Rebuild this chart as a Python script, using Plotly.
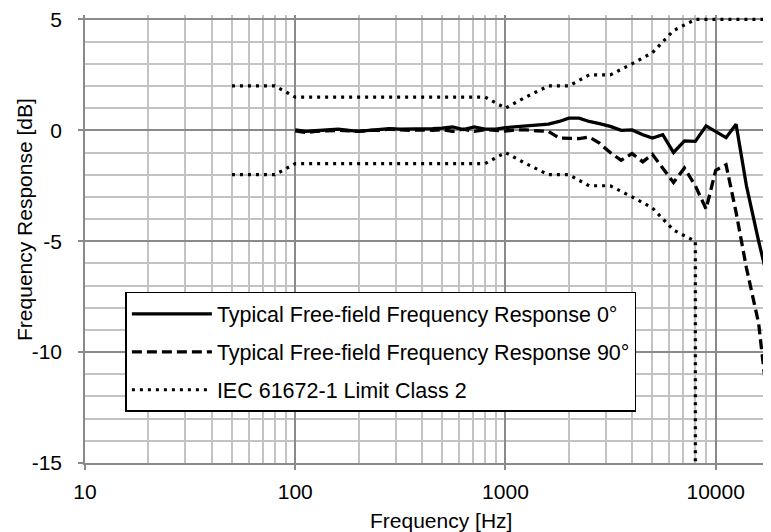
import plotly.graph_objects as go

# ---- data ----
freq_meas = [100, 112, 125, 140, 160, 180, 200, 224, 250, 280, 315, 355, 400, 450, 500, 560, 630, 710, 800, 900,
             1000, 1120, 1250, 1400, 1600, 1800, 2000, 2240, 2500, 2800, 3150, 3550, 4000, 4500, 5000, 5600, 6300, 7100, 8000, 9000,
             10000, 11200, 12500, 14000, 16000, 18000, 20000]
resp_0deg = [0.02, -0.05, -0.02, 0.0, 0.05, 0.0, -0.05, 0.0, 0.03, 0.08, 0.05, 0.05, 0.06, 0.08, 0.1, 0.15, 0.03, 0.15, 0.05, 0.05,
             0.12, 0.15, 0.18, 0.22, 0.28, 0.4, 0.55, 0.55, 0.4, 0.3, 0.18, 0.0, 0.02, -0.2, -0.35, -0.2, -1.0, -0.48, -0.5, 0.2,
             -0.05, -0.33, 0.27, -2.5, -5.0, -7.0, -9.0]
resp_90deg = [-0.02, -0.1, -0.05, -0.03, 0.0, -0.02, -0.05, 0.0, 0.0, 0.05, 0.03, 0.0, 0.02, 0.0, 0.03, -0.05, 0.05, -0.05, 0.03, 0.0,
              -0.03, 0.02, 0.02, -0.02, -0.05, -0.35, -0.37, -0.37, -0.3, -0.58, -1.0, -1.35, -1.05, -1.42, -1.08, -1.7, -2.35, -1.7, -2.5, -3.55,
              -1.8, -1.55, -3.7, -6.2, -8.7, -13.0, -17.0]

freq_iec_upper = [50, 63, 80, 100, 125, 160, 200, 250, 315, 400, 500, 630, 800, 1000, 1250, 1600, 2000, 2500, 3150, 4000,
                  5000, 6300, 8000, 10000, 12500, 16000, 20000]
iec_upper = [2, 2, 2, 1.5, 1.5, 1.5, 1.5, 1.5, 1.5, 1.5, 1.5, 1.5, 1.5, 1.0, 1.5, 2.0, 2.0, 2.5, 2.5, 3.0,
             3.5, 4.5, 5.0, 5.0, 5.0, 5.0, 5.0]
freq_iec_lower = [50, 63, 80, 100, 125, 160, 200, 250, 315, 400, 500, 630, 800, 1000, 1250, 1600, 2000, 2500, 3150, 4000,
                  5000, 6300, 8000, 8000]
iec_lower = [-2, -2, -2, -1.5, -1.5, -1.5, -1.5, -1.5, -1.5, -1.5, -1.5, -1.5, -1.5, -1.0, -1.5, -2.0, -2.0, -2.5, -2.5, -3.0,
             -3.5, -4.5, -5.0, -15.0]

x_major_ticks = [10, 100, 1000, 10000]
x_tick_labels = ["10", "100", "1000", "10000"]
y_ticks = [-15, -10, -5, 0, 5]
y_tick_labels = ["-15", "-10", "-5", "0", "5"]

name_0 = "Typical Free-field Frequency Response 0°"
name_90 = "Typical Free-field Frequency Response 90°"
name_iec = "IEC 61672-1 Limit Class 2"

# ---- figure ----
FONT = "Liberation Sans, Arial, sans-serif"
FS = 21
fig = go.Figure()
fig.add_trace(go.Scatter(x=freq_meas, y=resp_0deg, mode="lines", name=name_0, legendgroup="a",
                         line=dict(color="black", width=3.3)))
fig.add_trace(go.Scatter(x=freq_meas, y=resp_90deg, mode="lines", name=name_90, legendgroup="b",
                         line=dict(color="black", width=3.3, dash="10px,5px")))
fig.add_trace(go.Scatter(x=freq_iec_upper, y=iec_upper, mode="lines", name=name_iec, legendgroup="c",
                         line=dict(color="black", width=3.2, dash="3px,5px")))
fig.add_trace(go.Scatter(x=freq_iec_lower, y=iec_lower, mode="lines", name=name_iec, legendgroup="c",
                         showlegend=False, line=dict(color="black", width=3.2, dash="3px,5px")))

minor_x = [m * d for d in x_major_ticks for m in range(2, 10)]

major_grid = "#8a8a8a"
minor_grid = "#c3c3c3"

fig.update_layout(
    width=771, height=532,
    margin=dict(l=76.6, r=0, t=6.56, b=77),
    paper_bgcolor="white", plot_bgcolor="white",
    font=dict(family=FONT, size=FS, color="black"),
    showlegend=True,
    legend=dict(x=0.0582, y=0.382, xanchor="left", yanchor="top",
                bgcolor="white", bordercolor="black", borderwidth=1.5,
                font=dict(family=FONT, size=21.5, color="black"),
                tracegroupgap=7, itemwidth=80, entrywidth=449),
    xaxis=dict(type="log", range=[1, 4.30103],
               tickmode="array", tickvals=x_major_ticks, ticktext=x_tick_labels,
               showgrid=True, gridcolor=major_grid, gridwidth=1.5,
               showline=True, linecolor=major_grid, linewidth=1.5,
               ticks="outside", ticklen=5, tickcolor=major_grid, tickwidth=1.5,
               ticklabelstandoff=4, ticklabeloverflow="allow",
               minor=dict(tickmode="array", tickvals=minor_x, showgrid=True,
                          gridcolor=minor_grid, gridwidth=1.5, ticks=""),
               zeroline=False, fixedrange=True),
    yaxis=dict(range=[-15, 5.2],
               tickmode="array", tickvals=y_ticks, ticktext=y_tick_labels,
               showgrid=True, gridcolor=major_grid, gridwidth=1.5,
               showline=True, linecolor=major_grid, linewidth=1.5,
               ticks="outside", ticklen=5, tickcolor=major_grid, tickwidth=1.5,
               ticklabelstandoff=12, ticklabeloverflow="allow",
               minor=dict(dtick=1, tick0=0, showgrid=True, gridcolor=minor_grid, gridwidth=1.5, ticks=""),
               zeroline=False, fixedrange=True),
    annotations=[
        dict(text="Frequency [Hz]", xref="paper", yref="paper", x=0.5133, y=-0.1293,
             xanchor="center", yanchor="middle", showarrow=False,
             font=dict(family=FONT, size=FS, color="black")),
        dict(text="Frequency Response [dB]", xref="paper", yref="paper", x=-0.0864, y=0.5426,
             xanchor="center", yanchor="middle", textangle=-90, showarrow=False,
             font=dict(family=FONT, size=FS, color="black")),
    ],
)

fig.write_html("out.html")
